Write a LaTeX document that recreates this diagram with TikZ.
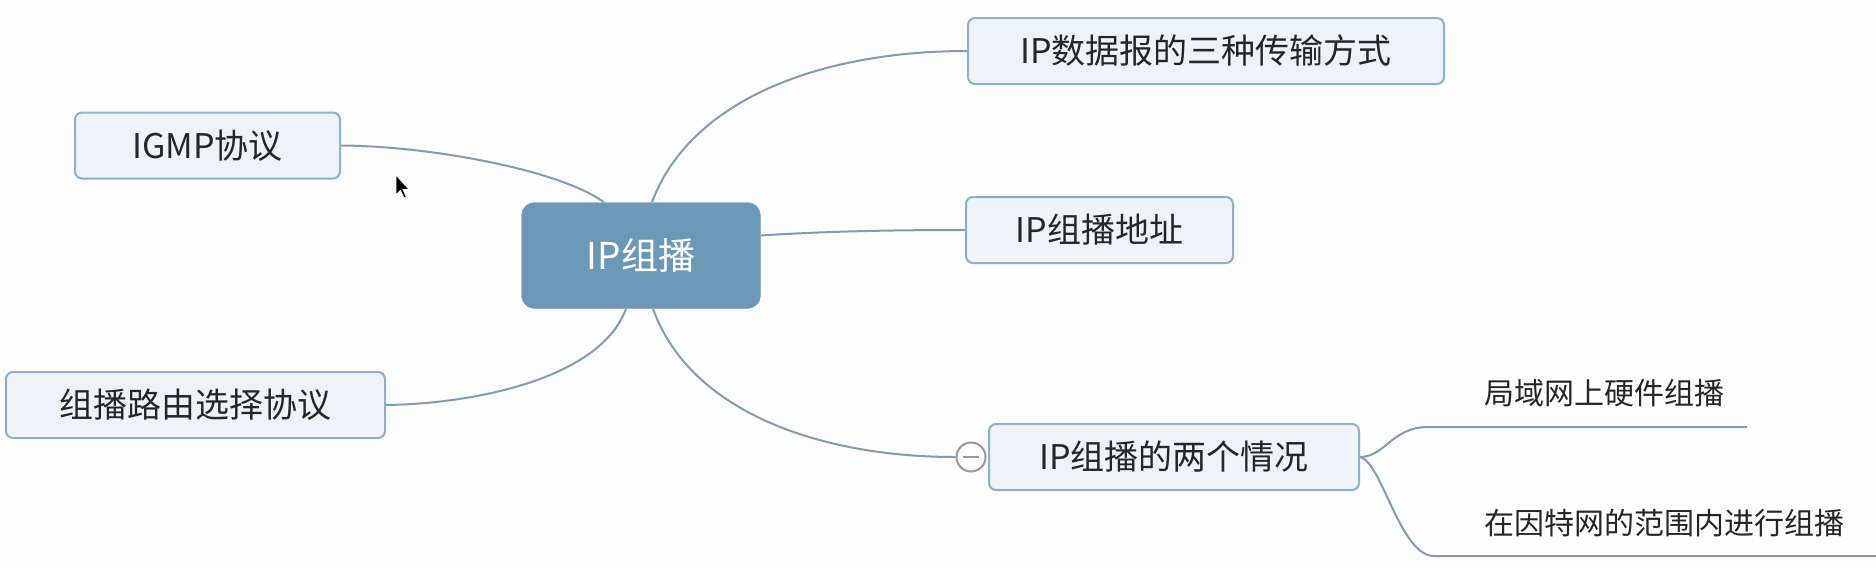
\documentclass[tikz,border=0pt]{standalone}
\usepackage{fontspec}
\setmainfont{Noto Sans CJK SC}
\usetikzlibrary{calc}
\definecolor{bgc}{HTML}{FDFDFD}
\definecolor{rootfill}{HTML}{6D97B6}
\definecolor{boxfill}{HTML}{EEF3F8}
\definecolor{boxline}{HTML}{8FAEC9}
\definecolor{linkc}{HTML}{7E9DB9}
\begin{document}
\begin{tikzpicture}[x=1pt,y=-1pt,
  root/.style={fill=rootfill, draw=rootfill!90!white, rounded corners=13pt, minimum width=239pt, minimum height=106pt, inner sep=0pt, text=white, font=\fontsize{37}{44}\selectfont},
  topic/.style={draw=boxline, line width=2pt, fill=boxfill, rounded corners=7pt, minimum height=66pt, inner sep=0pt, text=black!85, font=\fontsize{34}{40}\selectfont},
  leaf/.style={inner sep=0pt, text=black!85, font=\fontsize{30}{36}\selectfont},
  link/.style={draw=linkc, line width=2pt},
  collapse/.style={circle, draw=gray!80, line width=2pt, fill=white, minimum size=29pt, inner sep=0pt}]
\useasboundingbox[fill=bgc] (0,0) rectangle (1876,568);

\node[root] (root) at (641,255.5) {IP组播};
\node[topic, minimum width=476pt] (n1) at (1206,51) {IP数据报的三种传输方式};
\node[topic, minimum width=267pt] (n2) at (1099.5,230) {IP组播地址};
\node[topic, minimum width=370pt] (n3) at (1174,457) {IP组播的两个情况};
\node[topic, minimum width=265pt] (n4) at (207.5,145.5) {IGMP协议};
\node[topic, minimum width=379pt] (n5) at (195.5,405) {组播路由选择协议};
\node[collapse] (col) at (971,457) {};
\draw[draw=gray!80, line width=2pt] ($(col.center)+(-8,0)$) -- ($(col.center)+(8,0)$);

\node[leaf] (l1) at (1604,393) {局域网上硬件组播};
\node[leaf] (l2) at (1664,523) {在因特网的范围内进行组播};
\coordinate (l1a) at (1428,427);
\coordinate (l1b) at (1747,427);
\coordinate (l2a) at (1434,556);
\coordinate (l2b) at (1876,556);

\coordinate (rt1) at ($(root.north)+(11,0)$);
\coordinate (rt4) at ($(root.north)+(-37,0)$);
\coordinate (rb3) at ($(root.south)+(12,0)$);
\coordinate (rb5) at ($(root.south)+(-15,0)$);
\coordinate (re2) at ($(root.east)+(0,-20)$);

\draw[link] (rt1) .. controls (690,100) and (820,51) .. (n1.west);
\draw[link] (re2) .. controls (830,231) and (900,230) .. (n2.west);
\draw[link] (rb3) .. controls (690,412) and (820,457) .. (col.west);
\draw[link] (rt4) .. controls (560,170) and (430,146) .. (n4.east);
\draw[link] (rb5) .. controls (600,380) and (470,404) .. (n5.east);

\draw[link] (n3.east) .. controls (1385,457) and (1392,427) .. (l1a) -- (l1b);
\draw[link] (n3.east) .. controls (1382,462) and (1400,556) .. (l2a) -- (l2b);

% mouse cursor
\draw[fill=black, draw=white, line width=0.8pt] (396,175) -- (396,195) -- (400.5,190.5) -- (404,198) -- (406.5,197) -- (403,189.5) -- (409,189.5) -- cycle;
\end{tikzpicture}
\end{document}
